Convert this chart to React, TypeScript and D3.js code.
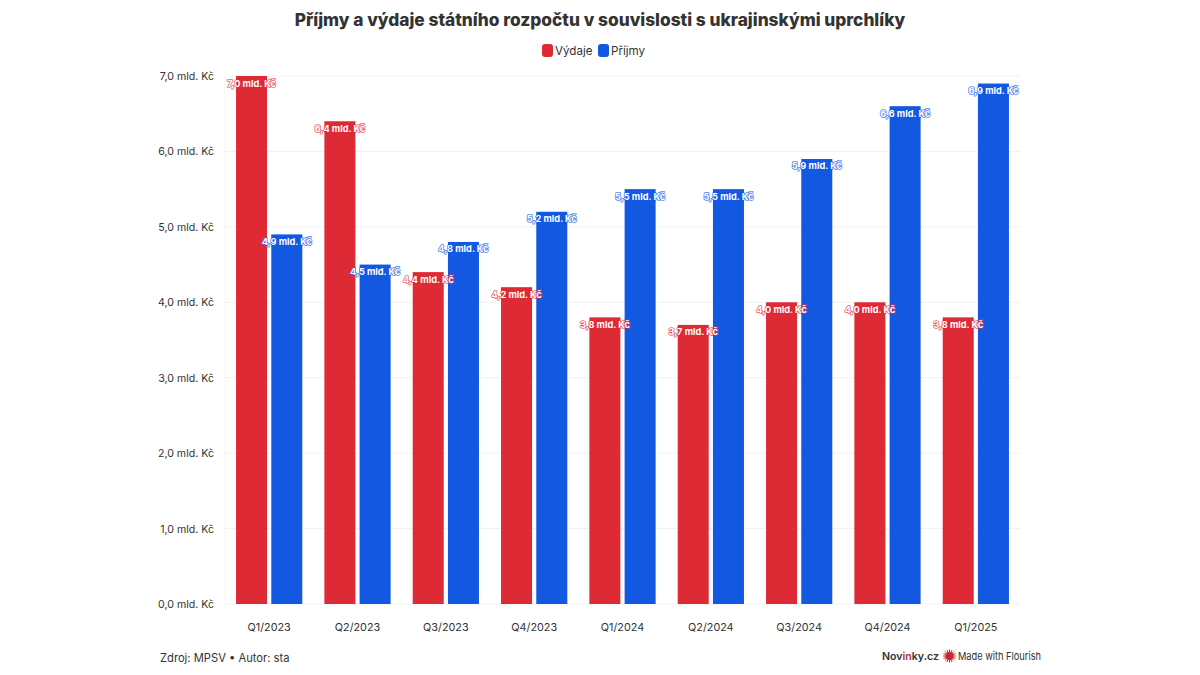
import React from 'react';
import * as d3 from 'd3';

const quarters = ['Q1/2023', 'Q2/2023', 'Q3/2023', 'Q4/2023', 'Q1/2024', 'Q2/2024', 'Q3/2024', 'Q4/2024', 'Q1/2025'];
const seriesNames = ['Výdaje', 'Příjmy'];
const vydaje = [7.0, 6.4, 4.4, 4.2, 3.8, 3.7, 4.0, 4.0, 3.8];
const prijmy = [4.9, 4.5, 4.8, 5.2, 5.5, 5.5, 5.9, 6.6, 6.9];
const yTicks = [0, 1, 2, 3, 4, 5, 6, 7];
const colors = ['#de2a35', '#1358e0'];

const font = 'Inter, "Noto Sans", sans-serif';
const fmt = (v: number) => `${v.toFixed(1).replace('.', ',')} mld. Kč`;

const x0 = d3.scaleBand<string>().domain(quarters).range([225, 1020]).paddingInner(0.25).paddingOuter(0.125);
const x1 = d3.scaleBand<string>().domain(seriesNames).range([0, x0.bandwidth()]).paddingInner(0.12);
const y = d3.scaleLinear().domain([0, 7]).range([604, 76]);

const values = [vydaje, prijmy];

// the small Flourish burst next to the credit
const burstRays = d3.range(16).map(i => (i / 16) * Math.PI * 2);

export default function App() {
  return (
    <svg width={1200} height={675} style={{ position: 'absolute', left: 0, top: 0, background: '#fff' }}>
      <text x={600} y={26} textAnchor="middle" fontFamily={font} fontSize={17.3} fontWeight={800} fill="#333">
        Příjmy a výdaje státního rozpočtu v souvislosti s ukrajinskými uprchlíky
      </text>

      {/* legend */}
      <rect x={542} y={44} width={11} height={13} rx={3} fill={colors[0]} />
      <text x={555} y={55} fontFamily={font} fontSize={11.6} fill="#333">{seriesNames[0]}</text>
      <rect x={598} y={44} width={11} height={13} rx={3} fill={colors[1]} />
      <text x={611} y={55} fontFamily={font} fontSize={11.6} fill="#333">{seriesNames[1]}</text>

      {/* grid + y axis */}
      {yTicks.map(t => (
        <g key={t}>
          <line x1={225} x2={1020} y1={y(t)} y2={y(t)} stroke="#f1f1f1" strokeWidth={1} />
          <text x={214} y={y(t) + 4} textAnchor="end" fontFamily={font} fontSize={10.6} fill="#333">{fmt(t)}</text>
        </g>
      ))}
      <line x1={225} x2={225} y1={76} y2={604} stroke="#f6f6f6" strokeWidth={1} />

      {/* bars */}
      {quarters.map((q, i) => (
        <g key={q} transform={`translate(${x0(q)},0)`}>
          {seriesNames.map((s, j) => (
            <rect key={s} x={x1(s)} y={y(values[j][i])} width={x1.bandwidth()} height={y(0) - y(values[j][i])} fill={colors[j]} />
          ))}
          <text x={x0.bandwidth() / 2} y={631} textAnchor="middle" fontFamily={font} fontSize={10.8} fill="#333">{q}</text>
        </g>
      ))}

      {/* value labels stay on top of neighbouring bars */}
      {quarters.map((q, i) => (
        <g key={q} transform={`translate(${x0(q)},0)`}>
          {seriesNames.map((s, j) => (
            <text
              key={s}
              x={x1(s)! + x1.bandwidth() / 2}
              y={y(values[j][i]) + 10.5}
              textAnchor="middle"
              fontFamily={font}
              fontSize={9.2}
              fontWeight={700}
              fill="#fff"
              stroke={colors[j]}
              strokeOpacity={0.75}
              strokeWidth={1.6}
              strokeLinejoin="round"
              style={{ paintOrder: 'stroke' }}
            >
              {fmt(values[j][i])}
            </text>
          ))}
        </g>
      ))}

      {/* footer */}
      <text x={160} y={662} fontFamily={font} fontSize={11.2} fill="#333">Zdroj: MPSV • Autor: sta</text>
      <text x={882} y={660} fontFamily={font} fontSize={10.6} fontWeight={600} fill="#333">
        Nov<tspan fill="#a33">in</tspan>ky.cz
      </text>
      <g transform="translate(949.5,656)">
        {burstRays.map(a => (
          <line key={a} x1={0} y1={0} x2={Math.cos(a) * 6.5} y2={Math.sin(a) * 6.5} stroke="#c8282d" strokeWidth={1} />
        ))}
        <circle r={4} fill="#c8282d" />
      </g>
      <text x={958} y={660} fontFamily={font} fontSize={11} fill="#333" textLength={83} lengthAdjust="spacingAndGlyphs">Made with Flourish</text>
    </svg>
  );
}
